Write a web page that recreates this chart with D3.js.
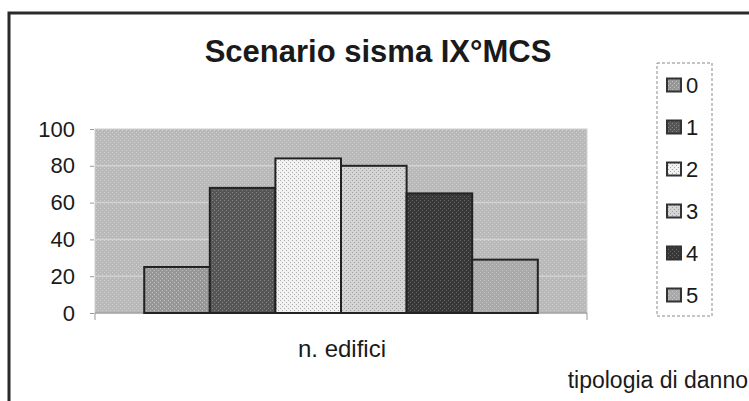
<!DOCTYPE html>
<html>
<head>
<meta charset="utf-8">
<script src="https://cdn.jsdelivr.net/npm/d3@7"></script>
<style>
  html, body { margin: 0; padding: 0; background: #ffffff; }
  svg { display: block; }
  text { font-family: "Liberation Sans", Arial, Helvetica, sans-serif; fill: #1a1a1a; }
</style>
</head>
<body>
<svg id="chart" width="749" height="401"></svg>
<script>
const title = "Scenario sisma IX°MCS";
const categories = ["0", "1", "2", "3", "4", "5"];
const values = [25, 68, 84, 80, 65, 29];
const yTicks = [0, 20, 40, 60, 80, 100];
const xAxisLabel = "n. edifici";
const legendTitle = "tipologia di danno";

const fills = ["#979797", "#565656", "#f2f2f2", "#d4d4d4", "#383838", "#a9a9a9"];
const patternDots = ["#c0c0c0", "#858585", "#acacac", "#a4a4a4", "#666666", "#c6c6c6"];

const svg = d3.select("#chart");
const defs = svg.append("defs");

// stipple textures (decorative)
function addPattern(id, base, dot) {
  const p = defs.append("pattern").attr("id", id).attr("width", 4).attr("height", 4)
    .attr("patternUnits", "userSpaceOnUse");
  p.append("rect").attr("width", 4).attr("height", 4).attr("fill", base);
  p.append("rect").attr("x", 0).attr("y", 0).attr("width", 1).attr("height", 1).attr("fill", dot);
  p.append("rect").attr("x", 2).attr("y", 2).attr("width", 1).attr("height", 1).attr("fill", dot);
}
addPattern("bgPat", "#b9b9b9", "#d0d0d0");
categories.forEach((c, i) => addPattern("pat" + i, fills[i], patternDots[i]));

// outer frame
svg.append("rect").attr("x", 9).attr("y", 13).attr("width", 760).attr("height", 420)
  .attr("fill", "#ffffff").attr("stroke", "#2a2a2a").attr("stroke-width", 3);

const plot = { left: 95, right: 587, top: 129, bottom: 313 };

const y = d3.scaleLinear().domain([0, 100]).range([plot.bottom, plot.top]);
const x = d3.scaleBand().domain(categories).range([plot.left, plot.right])
  .paddingInner(0).paddingOuter(0.75);

// plot background
svg.append("rect").attr("x", plot.left).attr("y", plot.top)
  .attr("width", plot.right - plot.left).attr("height", plot.bottom - plot.top)
  .attr("fill", "url(#bgPat)").attr("stroke", "#cfcfcf").attr("stroke-width", 1);

// gridlines
svg.append("g").selectAll("line").data(yTicks.filter(d => d > 0 && d < 100)).join("line")
  .attr("x1", plot.left).attr("x2", plot.right)
  .attr("y1", d => y(d)).attr("y2", d => y(d))
  .attr("stroke", "#d2d2d2").attr("stroke-width", 1.5);

// y axis
const yAxis = d3.axisLeft(y).tickValues(yTicks).tickSize(4).tickPadding(15);
const gy = svg.append("g").attr("transform", `translate(${plot.left - 1},0)`).call(yAxis);
gy.select(".domain").remove();
gy.selectAll(".tick line").attr("stroke", "#9a9a9a");
gy.selectAll(".tick text").attr("font-size", 22).attr("fill", "#1a1a1a")
  .style("font-family", '"Liberation Sans", Arial, sans-serif');

// x axis base line and end ticks
svg.append("line").attr("x1", plot.left).attr("x2", plot.right)
  .attr("y1", plot.bottom).attr("y2", plot.bottom).attr("stroke", "#8a8a8a").attr("stroke-width", 1);
svg.append("g").selectAll("line").data([plot.left, plot.right]).join("line")
  .attr("x1", d => d).attr("x2", d => d).attr("y1", plot.bottom).attr("y2", plot.bottom + 7)
  .attr("stroke", "#9a9a9a").attr("stroke-width", 1);

// bars
svg.append("g").selectAll("rect").data(values).join("rect")
  .attr("x", (d, i) => x(categories[i]))
  .attr("y", d => y(d))
  .attr("width", x.bandwidth())
  .attr("height", d => y(0) - y(d))
  .attr("fill", (d, i) => `url(#pat${i})`)
  .attr("stroke", "#222222").attr("stroke-width", 2);

// title
svg.append("text").attr("x", 378).attr("y", 62).attr("text-anchor", "middle")
  .attr("font-size", 31).attr("font-weight", "bold").text(title);

// x label
svg.append("text").attr("x", 342).attr("y", 357).attr("text-anchor", "middle")
  .attr("font-size", 24).text(xAxisLabel);

// legend title-like label
svg.append("text").attr("x", 748).attr("y", 388).attr("text-anchor", "end")
  .attr("font-size", 23).text(legendTitle);

// legend
const legY = d3.scalePoint().domain(categories).range([85, 295]);
svg.append("rect").attr("x", 657).attr("y", 63).attr("width", 55).attr("height", 253)
  .attr("fill", "#ffffff").attr("stroke", "#8a8a8a").attr("stroke-width", 1)
  .attr("stroke-dasharray", "3,2");
const leg = svg.append("g").selectAll("g").data(categories).join("g")
  .attr("transform", d => `translate(0,${legY(d)})`);
leg.append("rect").attr("x", 667).attr("y", -6.5).attr("width", 14).attr("height", 13)
  .attr("fill", (d, i) => `url(#pat${i})`).attr("stroke", "#333333").attr("stroke-width", 2);
leg.append("text").attr("x", 686).attr("y", 8).attr("font-size", 22).text(d => d);
</script>
</body>
</html>
